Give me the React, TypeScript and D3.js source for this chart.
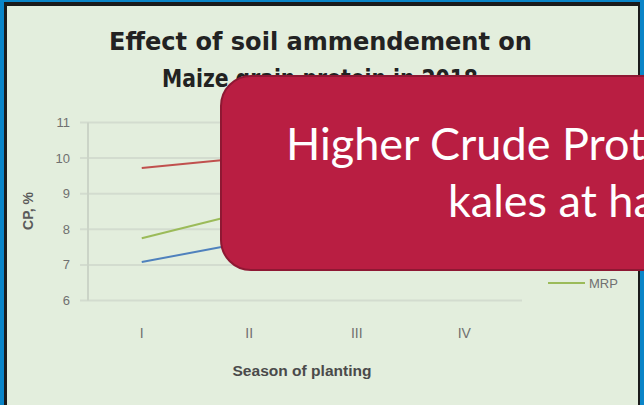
import React from "react";
import * as d3 from "d3";

const seasons = ["I", "II", "III", "IV"];
const seriesNames = ["Control", "FYM", "MRP"];
const controlCP = [7.08, 7.65, 7.9, 8.1];
const fymCP = [9.72, 10.02, 10.2, 10.4];
const mrpCP = [7.75, 8.5, 8.7, 8.9];
const seriesColors = ["#4F81BD", "#C0504D", "#9BBB59"];
const yTicks = [6, 7, 8, 9, 10, 11];

const W = 644;
const H = 405;

const App = () => {
  const x = d3.scaleBand().domain(seasons).range([88, 518]);
  const y = d3.scaleLinear().domain([6, 11]).range([300.5, 122.5]);
  const cx = (d) => x(d) + x.bandwidth() / 2;

  const line = d3
    .line()
    .x((d) => d[0])
    .y((d) => d[1]);

  const allSeries = [controlCP, fymCP, mrpCP];
  const font = "'Liberation Sans', Arial, sans-serif";
  const calloutFont = "Lato, 'Open Sans', sans-serif";

  return (
    <svg
      width={W}
      height={H}
      style={{ position: "absolute", left: 0, top: 0 }}
      fontFamily={font}
    >
      {/* frame */}
      <rect x={0} y={0} width={W} height={H} fill="#0A85C8" />
      <rect x={4} y={2} width={636} height={H} fill="#1b1b1b" />
      <rect x={7} y={6} width={631} height={H} fill="#E3EEDD" />

      {/* title */}
      <text
        x={109}
        y={50}
        fontSize={24}
        fontWeight="bold"
        fill="#222"
        fontFamily="'DejaVu Sans', sans-serif"
        textLength={423}
        lengthAdjust="spacingAndGlyphs"
      >
        Effect of soil ammendement on
      </text>
      <text
        x={162}
        y={87}
        fontSize={24}
        fontWeight="bold"
        fill="#222"
        fontFamily="'DejaVu Sans', sans-serif"
        textLength={316}
        lengthAdjust="spacingAndGlyphs"
      >
        Maize grain protein in 2018
      </text>

      {/* grid */}
      {yTicks.map((t) => (
        <g key={t}>
          <line x1={80} x2={522} y1={y(t)} y2={y(t)} stroke="#D3DCCF" strokeWidth={2} />
          <text x={70} y={y(t)} dy="0.35em" textAnchor="end" fontSize={13} fill="#707070">
            {t}
          </text>
        </g>
      ))}
      <line x1={88} x2={88} y1={y(11)} y2={y(6)} stroke="#CBD4C7" strokeWidth={2} />

      {seasons.map((s) => (
        <text key={s} x={cx(s)} y={338} textAnchor="middle" fontSize={14} fill="#707070">
          {s}
        </text>
      ))}

      <text
        x={302}
        y={376}
        textAnchor="middle"
        fontSize={14}
        fontWeight="bold"
        fill="#4a4a4a"
        textLength={139}
        lengthAdjust="spacingAndGlyphs"
      >
        Season of planting
      </text>
      <text
        transform="translate(33,211) rotate(-90)"
        textAnchor="middle"
        fontSize={14}
        fontWeight="bold"
        fill="#5a5a5a"
      >
        CP, %
      </text>

      {/* lines */}
      {allSeries.map((vals, i) => (
        <path
          key={seriesNames[i]}
          d={line(vals.map((v, j) => [cx(seasons[j]), y(v)]))}
          fill="none"
          stroke={seriesColors[i]}
          strokeWidth={2}
        />
      ))}

      {/* legend (first two entries sit under the callout) */}
      {seriesNames.map((n, i) => (
        <g key={n} transform={`translate(548, ${211 + i * 36})`}>
          <line x1={0} x2={37} y1={0} y2={0} stroke={seriesColors[i]} strokeWidth={2} />
          <text x={41} y={0} dy="0.35em" fontSize={13} fill="#707070">
            {n}
          </text>
        </g>
      ))}

      {/* callout */}
      <rect x={221} y={76} width={460} height={194} rx={30} fill="#B91E42" stroke="#8E1833" strokeWidth={2} />
      <text x={286} y={160} fontSize={45} fill="#ffffff" fontFamily={calloutFont}>
        Higher Crude Protein in
      </text>
      <text x={448} y={217} fontSize={45} fill="#ffffff" fontFamily={calloutFont}>
        kales at harvest
      </text>
    </svg>
  );
};

export default App;
